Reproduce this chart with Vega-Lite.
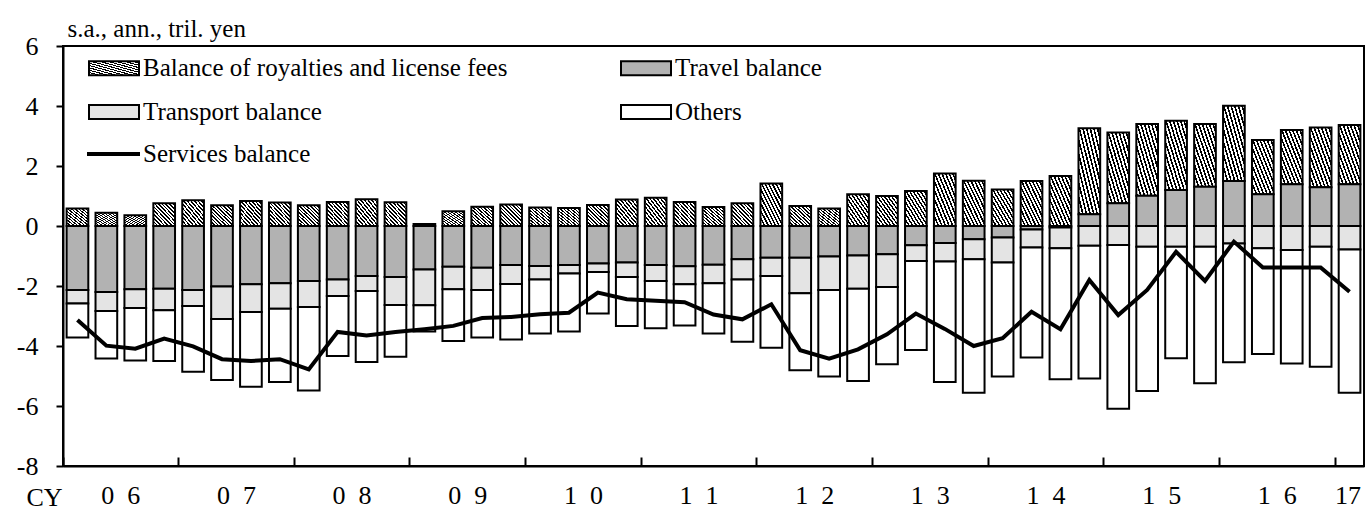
{
  "$schema": "https://vega.github.io/schema/vega-lite/v6.json",
  "width": 1301,
  "height": 420,
  "autosize": "none",
  "padding": {"left": 63, "top": 46, "right": 2, "bottom": 47},
  "background": "white",
  "config": {
    "view": {"stroke": "black", "strokeWidth": 2},
    "font": "Liberation Serif",
    "axis": {
      "labelFont": "Liberation Serif",
      "titleFont": "Liberation Serif",
      "labelColor": "black",
      "titleColor": "black",
      "domainColor": "black",
      "tickColor": "black",
      "domainWidth": 2,
      "tickWidth": 2,
      "grid": false,
      "titleFontWeight": "normal"
    },
    "legend": {"labelFont": "Liberation Serif", "labelColor": "black"}
  },
  "data": {
    "values": [
      {"q": "2006Q1", "roy": 0.58, "tra": -2.13, "tsp": -0.45, "oth": -1.14, "svc": -3.13},
      {"q": "2006Q2", "roy": 0.44, "tra": -2.2, "tsp": -0.63, "oth": -1.59, "svc": -3.99},
      {"q": "2006Q3", "roy": 0.36, "tra": -2.11, "tsp": -0.62, "oth": -1.75, "svc": -4.09},
      {"q": "2006Q4", "roy": 0.76, "tra": -2.09, "tsp": -0.72, "oth": -1.69, "svc": -3.75},
      {"q": "2007Q1", "roy": 0.86, "tra": -2.13, "tsp": -0.54, "oth": -2.19, "svc": -4.01},
      {"q": "2007Q2", "roy": 0.69, "tra": -2.02, "tsp": -1.08, "oth": -2.03, "svc": -4.44},
      {"q": "2007Q3", "roy": 0.83, "tra": -1.94, "tsp": -0.93, "oth": -2.49, "svc": -4.5},
      {"q": "2007Q4", "roy": 0.78, "tra": -1.91, "tsp": -0.85, "oth": -2.44, "svc": -4.44},
      {"q": "2008Q1", "roy": 0.69, "tra": -1.83, "tsp": -0.87, "oth": -2.78, "svc": -4.78},
      {"q": "2008Q2", "roy": 0.8, "tra": -1.78, "tsp": -0.55, "oth": -2.0, "svc": -3.53},
      {"q": "2008Q3", "roy": 0.89, "tra": -1.67, "tsp": -0.5, "oth": -2.36, "svc": -3.65},
      {"q": "2008Q4", "roy": 0.79, "tra": -1.7, "tsp": -0.93, "oth": -1.73, "svc": -3.53},
      {"q": "2009Q1", "roy": 0.07, "tra": -1.45, "tsp": -1.19, "oth": -0.88, "svc": -3.44},
      {"q": "2009Q2", "roy": 0.49, "tra": -1.36, "tsp": -0.75, "oth": -1.72, "svc": -3.33},
      {"q": "2009Q3", "roy": 0.64, "tra": -1.39, "tsp": -0.74, "oth": -1.59, "svc": -3.07},
      {"q": "2009Q4", "roy": 0.72, "tra": -1.3, "tsp": -0.63, "oth": -1.85, "svc": -3.03},
      {"q": "2010Q1", "roy": 0.62, "tra": -1.33, "tsp": -0.45, "oth": -1.8, "svc": -2.94},
      {"q": "2010Q2", "roy": 0.6, "tra": -1.3, "tsp": -0.28, "oth": -1.94, "svc": -2.89},
      {"q": "2010Q3", "roy": 0.7, "tra": -1.25, "tsp": -0.28, "oth": -1.39, "svc": -2.22},
      {"q": "2010Q4", "roy": 0.88, "tra": -1.22, "tsp": -0.48, "oth": -1.63, "svc": -2.44},
      {"q": "2011Q1", "roy": 0.94, "tra": -1.3, "tsp": -0.53, "oth": -1.58, "svc": -2.49},
      {"q": "2011Q2", "roy": 0.8, "tra": -1.34, "tsp": -0.6, "oth": -1.38, "svc": -2.54},
      {"q": "2011Q3", "roy": 0.63, "tra": -1.29, "tsp": -0.62, "oth": -1.67, "svc": -2.95},
      {"q": "2011Q4", "roy": 0.76, "tra": -1.11, "tsp": -0.67, "oth": -2.08, "svc": -3.11},
      {"q": "2012Q1", "roy": 1.42, "tra": -1.06, "tsp": -0.61, "oth": -2.39, "svc": -2.61},
      {"q": "2012Q2", "roy": 0.67, "tra": -1.06, "tsp": -1.18, "oth": -2.57, "svc": -4.14},
      {"q": "2012Q3", "roy": 0.58, "tra": -1.02, "tsp": -1.11, "oth": -2.89, "svc": -4.42},
      {"q": "2012Q4", "roy": 1.06, "tra": -0.98, "tsp": -1.11, "oth": -3.08, "svc": -4.11},
      {"q": "2013Q1", "roy": 1.0, "tra": -0.94, "tsp": -1.09, "oth": -2.58, "svc": -3.61},
      {"q": "2013Q2", "roy": 1.17, "tra": -0.64, "tsp": -0.53, "oth": -2.96, "svc": -2.92},
      {"q": "2013Q3", "roy": 1.75, "tra": -0.57, "tsp": -0.61, "oth": -4.02, "svc": -3.43},
      {"q": "2013Q4", "roy": 1.51, "tra": -0.44, "tsp": -0.67, "oth": -4.45, "svc": -4.0},
      {"q": "2014Q1", "roy": 1.22, "tra": -0.38, "tsp": -0.84, "oth": -3.8, "svc": -3.74},
      {"q": "2014Q2", "roy": 1.5, "tra": -0.12, "tsp": -0.6, "oth": -3.66, "svc": -2.86},
      {"q": "2014Q3", "roy": 1.67, "tra": -0.05, "tsp": -0.69, "oth": -4.37, "svc": -3.44},
      {"q": "2014Q4", "roy": 2.87, "tra": 0.39, "tsp": -0.66, "oth": -4.42, "svc": -1.8},
      {"q": "2015Q1", "roy": 2.36, "tra": 0.76, "tsp": -0.63, "oth": -5.46, "svc": -2.97},
      {"q": "2015Q2", "roy": 2.39, "tra": 1.01, "tsp": -0.69, "oth": -4.81, "svc": -2.13},
      {"q": "2015Q3", "roy": 2.31, "tra": 1.2, "tsp": -0.69, "oth": -3.72, "svc": -0.86},
      {"q": "2015Q4", "roy": 2.09, "tra": 1.31, "tsp": -0.69, "oth": -4.55, "svc": -1.83},
      {"q": "2016Q1", "roy": 2.51, "tra": 1.5, "tsp": -0.58, "oth": -3.96, "svc": -0.52},
      {"q": "2016Q2", "roy": 1.81, "tra": 1.06, "tsp": -0.74, "oth": -3.53, "svc": -1.38},
      {"q": "2016Q3", "roy": 1.81, "tra": 1.39, "tsp": -0.8, "oth": -3.78, "svc": -1.38},
      {"q": "2016Q4", "roy": 1.99, "tra": 1.29, "tsp": -0.69, "oth": -4.0, "svc": -1.38},
      {"q": "2017Q1", "roy": 1.98, "tra": 1.39, "tsp": -0.78, "oth": -4.78, "svc": -2.19}
    ]
  },
  "encoding": {
    "x": {
      "field": "q",
      "type": "ordinal",
      "scale": {"paddingInner": 0, "paddingOuter": 0},
      "axis": {
        "title": "CY",
        "titleX": -37,
        "titleY": 31,
        "titleAlign": "left",
        "titleBaseline": "middle",
        "titleFontSize": 26,
        "labelFontSize": 26,
        "labelAngle": 0,
        "labelOverlap": false,
        "bandPosition": 0,
        "tickSize": -9,
        "labelPadding": 25,
        "labelOffset": -14.45,
        "tickOpacity": {"condition": {"test": "slice(datum.value, 4) == 'Q1'", "value": 1}, "value": 0},
        "labelAlign": {"condition": {"test": "datum.value == '2017Q1'", "value": "left"}, "value": "center"},
        "labelExpr": "slice(datum.value, 4) == 'Q3' ? slice(datum.value, 2, 3) + '\u2002' + slice(datum.value, 3, 4) : (datum.value == '2017Q1' ? '17' : '')"
      }
    }
  },
  "layer": [
    {
      "transform": [
        {"fold": ["roy", "tra", "tsp", "oth"], "as": ["series", "value"]},
        {"calculate": "indexof(['tra', 'roy', 'tsp', 'oth'], datum.series)", "as": "stackOrder"}
      ],
      "mark": {"type": "bar", "stroke": "black", "strokeWidth": 2, "width": {"band": 0.75}},
      "encoding": {
        "y": {
          "field": "value",
          "type": "quantitative",
          "stack": "zero",
          "scale": {"domain": [-8, 6], "nice": false, "zero": false},
          "axis": {
            "values": [-8, -6, -4, -2, 0, 2, 4, 6],
            "labelExpr": "'' + datum.value",
            "labelFontSize": 26,
            "labelPadding": 18,
            "tickSize": 7,
            "title": "s.a., ann., tril. yen",
            "titleAngle": 0,
            "titleAlign": "left",
            "titleBaseline": "alphabetic",
            "titleX": 4,
            "titleY": -10,
            "titleFontSize": 25
          }
        },
        "fill": {
          "field": "series",
          "type": "nominal",
          "scale": {
            "domain": ["roy", "tsp", "tra", "oth"],
            "range": [
              {"expr": "{gradient: 'linear', x1: 0, y1: 1, x2: 1, y2: 0, stops: [{offset: 0, color: 'black'}, {offset: 0.0375, color: 'black'}, {offset: 0.0375, color: 'white'}, {offset: 0.0833, color: 'white'}, {offset: 0.0833, color: 'black'}, {offset: 0.1208, color: 'black'}, {offset: 0.1208, color: 'white'}, {offset: 0.1667, color: 'white'}, {offset: 0.1667, color: 'black'}, {offset: 0.2042, color: 'black'}, {offset: 0.2042, color: 'white'}, {offset: 0.25, color: 'white'}, {offset: 0.25, color: 'black'}, {offset: 0.2875, color: 'black'}, {offset: 0.2875, color: 'white'}, {offset: 0.3333, color: 'white'}, {offset: 0.3333, color: 'black'}, {offset: 0.3708, color: 'black'}, {offset: 0.3708, color: 'white'}, {offset: 0.4167, color: 'white'}, {offset: 0.4167, color: 'black'}, {offset: 0.4542, color: 'black'}, {offset: 0.4542, color: 'white'}, {offset: 0.5, color: 'white'}, {offset: 0.5, color: 'black'}, {offset: 0.5375, color: 'black'}, {offset: 0.5375, color: 'white'}, {offset: 0.5833, color: 'white'}, {offset: 0.5833, color: 'black'}, {offset: 0.6208, color: 'black'}, {offset: 0.6208, color: 'white'}, {offset: 0.6667, color: 'white'}, {offset: 0.6667, color: 'black'}, {offset: 0.7042, color: 'black'}, {offset: 0.7042, color: 'white'}, {offset: 0.75, color: 'white'}, {offset: 0.75, color: 'black'}, {offset: 0.7875, color: 'black'}, {offset: 0.7875, color: 'white'}, {offset: 0.8333, color: 'white'}, {offset: 0.8333, color: 'black'}, {offset: 0.8708, color: 'black'}, {offset: 0.8708, color: 'white'}, {offset: 0.9167, color: 'white'}, {offset: 0.9167, color: 'black'}, {offset: 0.9542, color: 'black'}, {offset: 0.9542, color: 'white'}, {offset: 1, color: 'white'}]}"},
              "#e4e4e4",
              "#b2b2b2",
              "white"
            ]
          },
          "legend": {
            "orient": "none",
            "legendX": 37.5,
            "legendY": 8.5,
            "columns": 2,
            "columnPadding": 109,
            "rowPadding": 17,
            "padding": 0,
            "title": null,
            "symbolType": "M-2,-0.56H2V0.56H-2Z",
            "symbolSize": 625,
            "symbolStrokeColor": "black",
            "symbolStrokeWidth": 2,
            "symbolOpacity": 1,
            "labelFontSize": 25,
            "labelOffset": 15.5,
            "labelLimit": 800,
            "labelExpr": "datum.value == 'roy' ? 'Balance of royalties and license fees' : datum.value == 'tra' ? 'Travel balance' : datum.value == 'tsp' ? 'Transport balance' : 'Others'"
          }
        },
        "order": {"field": "stackOrder", "type": "quantitative"}
      }
    },
    {
      "mark": {"type": "rule", "stroke": "black", "strokeWidth": 2.5},
      "encoding": {
        "y": {
          "datum": 0,
          "type": "quantitative",
          "axis": {
            "values": [-8, -6, -4, -2, 0, 2, 4, 6],
            "labelExpr": "'' + datum.value",
            "labelFontSize": 26,
            "labelPadding": 18,
            "tickSize": 7,
            "title": "s.a., ann., tril. yen",
            "titleAngle": 0,
            "titleAlign": "left",
            "titleBaseline": "alphabetic",
            "titleX": 4,
            "titleY": -10,
            "titleFontSize": 25
          }
        }
      }
    },
    {
      "mark": {"type": "line", "strokeWidth": 4},
      "encoding": {
        "y": {
          "field": "svc",
          "type": "quantitative",
          "axis": {
            "values": [-8, -6, -4, -2, 0, 2, 4, 6],
            "labelExpr": "'' + datum.value",
            "labelFontSize": 26,
            "labelPadding": 18,
            "tickSize": 7,
            "title": "s.a., ann., tril. yen",
            "titleAngle": 0,
            "titleAlign": "left",
            "titleBaseline": "alphabetic",
            "titleX": 4,
            "titleY": -10,
            "titleFontSize": 25
          }
        },
        "stroke": {
          "datum": "Services balance",
          "type": "nominal",
          "scale": {"range": ["black"]},
          "legend": {
            "orient": "none",
            "legendX": 22,
            "legendY": 79.5,
            "padding": 0,
            "title": null,
            "symbolType": "stroke",
            "symbolSize": 2809,
            "symbolStrokeWidth": 4,
            "labelFontSize": 25,
            "labelOffset": 1,
            "labelLimit": 800
          }
        }
      }
    }
  ]
}
